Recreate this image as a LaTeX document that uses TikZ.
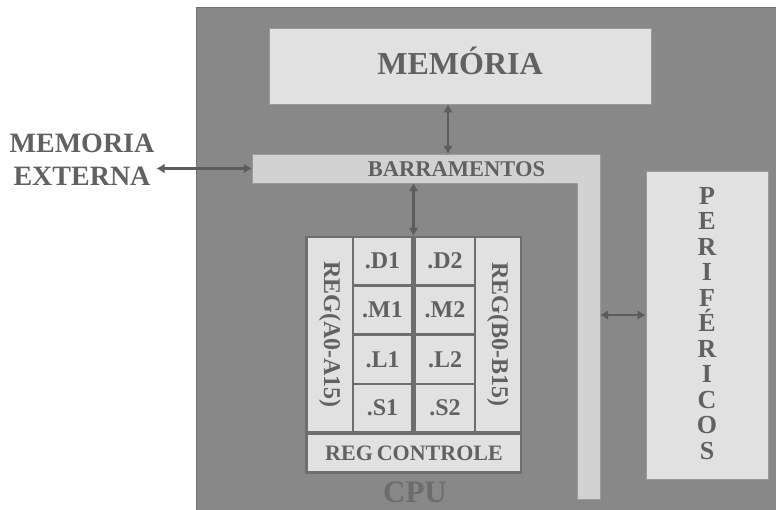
\documentclass[tikz,border=0pt]{standalone}
\usepackage{fontspec}
\setmainfont{Liberation Serif}
\usetikzlibrary{arrows.meta}
\definecolor{bgc}{HTML}{888888}
\definecolor{lightc}{HTML}{E1E1E1}
\definecolor{busc}{HTML}{D2D2D2}
\definecolor{txtc}{HTML}{616161}
\definecolor{arrc}{HTML}{5C5C5C}
\definecolor{regc}{HTML}{6E6E6E}
\definecolor{cpuc}{HTML}{6C6C6C}
\definecolor{edgec}{HTML}{9A9A9A}
\tikzset{
  lbl/.style={text=txtc, font=\bfseries, inner sep=0pt},
  lightbox/.style={fill=lightc, draw=edgec, line width=0.8pt, inner sep=0pt},
  cell/.style={fill=lightc, inner sep=0pt, text=txtc,
    font=\fontsize{24}{28}\selectfont\bfseries},
  arr/.style={draw=arrc, line width=2.6pt,
    {Latex[length=8pt,width=10pt]}-{Latex[length=8pt,width=10pt]}},
  ghost/.style={inner sep=0pt, draw=none, fill=none}
}
\begin{document}
\begin{tikzpicture}[x=1pt,y=-1pt]
\useasboundingbox (0,0) rectangle (776,509);
\fill[white] (0,0) rectangle (776,509);
% CPU background
\draw[fill=bgc, draw=black!55, line width=0.8pt] (196,7) rectangle (780,515);
% MEMORIA box
\node[lightbox, minimum width=382pt, minimum height=76pt] (mem) at (460,66) {};
\node[lbl, anchor=base, font=\fontsize{32}{36}\selectfont\bfseries] (memt) at (460,74) {MEMÓRIA};
% Bus (L-shape)
\draw[fill=busc, draw=edgec, line width=0.8pt]
  (252,154) -- (600,154) -- (600,499) -- (577,499) -- (577,183) -- (252,183) -- cycle;
\node[ghost, minimum width=348pt, minimum height=29pt] (bush) at (426,168.5) {};
\node[ghost, minimum width=23pt, minimum height=345pt] (busv) at (588.5,326.5) {};
\node[lbl, anchor=base, font=\fontsize{22.5}{26}\selectfont\bfseries] (bust) at (456.5,176) {BARRAMENTOS};
% External memory label
\node[lbl, anchor=north, align=center, font=\fontsize{28}{33}\selectfont\bfseries] (ext) at (82,134) {MEMORIA\\EXTERNA};
% Register block
\node[fill=regc, inner sep=0pt, minimum width=217pt, minimum height=238pt] (regs) at (413.5,355) {};
\node[cell, minimum width=44pt, minimum height=193pt] (ra) at (330,334.5) {};
\node[lbl, rotate=-90, font=\fontsize{24}{28}\selectfont\bfseries] (rat) at (ra) {REG(A0-A15)};
\node[cell, minimum width=44pt, minimum height=193pt] (rb) at (498,334.5) {};
\node[lbl, rotate=-90, font=\fontsize{24}{28}\selectfont\bfseries] (rbt) at (rb) {REG(B0-B15)};
\node[cell, minimum width=57pt, minimum height=46pt] (d1) at (382.5,261) {.D1};
\node[cell, minimum width=58pt, minimum height=46pt] (d2) at (445,261) {.D2};
\node[cell, minimum width=57pt, minimum height=46pt] (m1) at (382.5,310) {.M1};
\node[cell, minimum width=58pt, minimum height=46pt] (m2) at (445,310) {.M2};
\node[cell, minimum width=57pt, minimum height=47pt] (l1) at (382.5,359.5) {.L1};
\node[cell, minimum width=58pt, minimum height=47pt] (l2) at (445,359.5) {.L2};
\node[cell, minimum width=57pt, minimum height=46pt] (s1) at (382.5,408) {.S1};
\node[cell, minimum width=58pt, minimum height=46pt] (s2) at (445,408) {.S2};
\node[cell, minimum width=212pt, minimum height=36pt, font=\fontsize{22}{26}\selectfont\bfseries] (ctrl) at (414,453) {REG\hspace{0.18em}CONTROLE};
% CPU label
\node[anchor=base, inner sep=0pt, text=cpuc, font=\fontsize{31}{36}\selectfont\bfseries] (cpu) at (415,502) {CPU};
% Perifericos
\node[lightbox, minimum width=122pt, minimum height=308pt] (per) at (707,325) {};
\node[lbl, anchor=north, align=center, font=\fontsize{26}{25.5}\selectfont\bfseries] (pert) at (707,187)
  {P\\E\\R\\I\\F\\É\\R\\I\\C\\O\\S};
% Connectors
\coordinate (py) at (0,315);
\draw[arr] ([xshift=2pt]ext.east |- bush.west) -- (bush.west);
\draw[arr] ([xshift=-12pt]mem.south) -- ([xshift=-12pt]mem.south |- bush.north);
\draw[arr] (regs.north |- bush.south) -- (regs.north);
\draw[arr] (busv.east |- py) -- (per.west |- py);
\end{tikzpicture}
\end{document}
